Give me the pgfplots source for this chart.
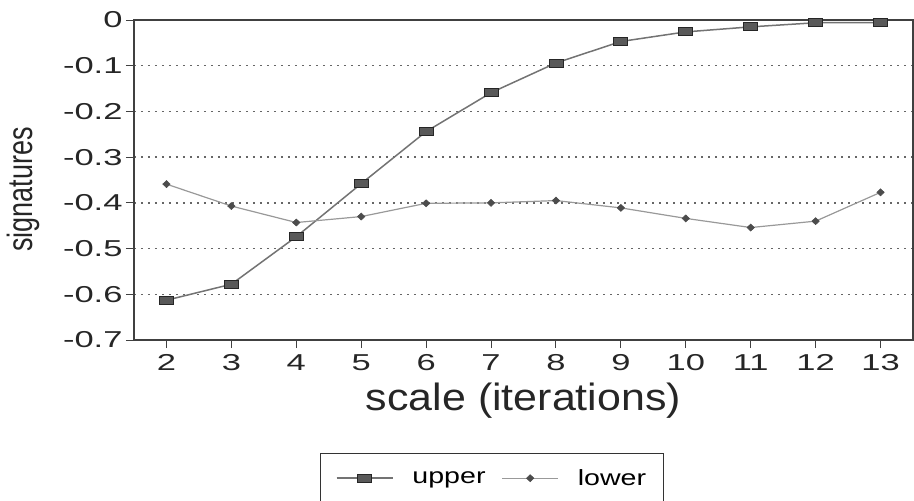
\documentclass[border=0pt]{standalone}
\usepackage{fontspec}
\usepackage{graphicx}
\setmainfont{Liberation Sans}
\newfontfamily\tickfont{Liberation Sans}[FakeStretch=1.5]
\newfontfamily\xlabfont{Liberation Sans}[FakeStretch=1.13]
\newfontfamily\legfont{Liberation Sans}[FakeStretch=1.3]
\usepackage{pgfplots}
\pgfplotsset{compat=1.18}

\begin{document}
\begin{tikzpicture}
\useasboundingbox (-134pt,-161pt) rectangle (780pt,340pt);
\begin{axis}[
  scale only axis, width=779pt, height=320pt,
  xmin=1.5, xmax=13.5, ymin=-0.7, ymax=0,
  xtick={2,3,4,5,6,7,8,9,10,11,12,13},
  xticklabels={2,3,4,5,6,7,8,9,10,11,12,13},
  ytick={-0.7,-0.6,-0.5,-0.4,-0.3,-0.2,-0.1,0},
  yticklabels={-0.7,-0.6,-0.5,-0.4,-0.3,-0.2,-0.1,0},
  tick align=outside, xtick pos=left, ytick pos=left,
  major tick length=8pt,
  ymajorgrids,
  grid style={black!60, line width=1.3pt, dash pattern=on 2pt off 5pt},
  axis line style={black!75, line width=1.1pt},
  tick style={black!75, line width=1pt},
  ticklabel style={font=\tickfont\fontsize{23}{23}\selectfont, text=black!85},
  xticklabel style={yshift=-3pt},
  xlabel={scale (iterations)},
  xlabel style={font=\xlabfont\fontsize{38}{38}\selectfont, text=black!85, at={(axis description cs:0.5,0)}, anchor=base, yshift=-70pt},
  ylabel={\scalebox{1}[1.3]{signatures}},
  ylabel style={font=\fontsize{27}{27}\selectfont, text=black!85, at={([xshift=-111pt]axis description cs:0,0.47)}, anchor=center},
  legend style={at={(axis description cs:0.4596,-0.353)}, anchor=north, legend columns=2, draw=black!80, line width=1pt,
    font=\legfont\fontsize{22}{22}\selectfont, inner xsep=15pt, inner ysep=14pt,
    /tikz/every odd column/.append style={column sep=17pt},
    /tikz/every even column/.append style={column sep=14pt}},
  legend image code/.code={\draw[mark repeat=2, mark phase=2] plot coordinates {(0pt,0pt) (28pt,0pt) (56pt,0pt)};},
  clip=false,
]
\addplot[black!55, line width=1.5pt, mark=square*, mark size=4pt,
  mark options={xscale=1.75, fill=black!65, draw=black!85, line width=0.8pt}]
  coordinates {(2,-0.613)(3,-0.578)(4,-0.474)(5,-0.358)(6,-0.244)(7,-0.159)(8,-0.094)(9,-0.047)(10,-0.026)(11,-0.015)(12,-0.006)(13,-0.006)};
\addlegendentry{upper}
\addplot[black!40, line width=1.2pt, mark=diamond*, mark size=3.5pt,
  mark options={xscale=1.4, fill=black!70, draw=black!70, line width=0.6pt}]
  coordinates {(2,-0.359)(3,-0.407)(4,-0.443)(5,-0.430)(6,-0.401)(7,-0.400)(8,-0.395)(9,-0.411)(10,-0.434)(11,-0.454)(12,-0.440)(13,-0.377)};
\addlegendentry{lower\hspace{16pt}}
\end{axis}
\end{tikzpicture}
\end{document}
